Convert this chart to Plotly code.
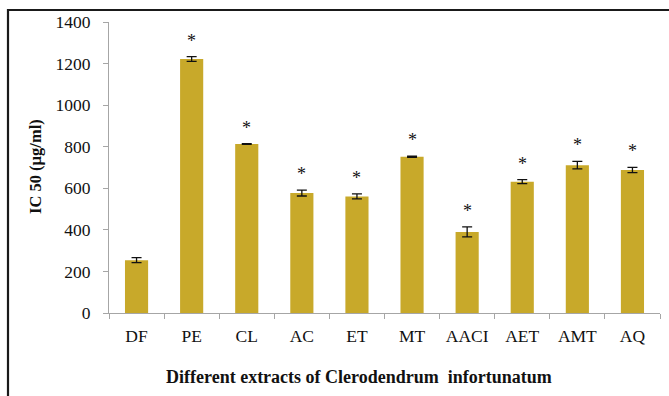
import plotly.graph_objects as go

# IC50 values of the extracts (µg/ml) with their standard deviations
extracts = ["DF", "PE", "CL", "AC", "ET", "MT", "AACI", "AET", "AMT", "AQ"]
ic50 = [254, 1222, 813, 577, 561, 752, 390, 632, 711, 688]
sd = [12, 11, 2, 14, 12, 3, 24, 10, 18, 13]
significance = ["", "*", "*", "*", "*", "*", "*", "*", "*", "*"]

BAR_COLOR = "#C8A92A"
SERIF = "Liberation Serif, Times New Roman, serif"

W, H = 669, 396
ML, MR, MT, MB = 109, 9, 22, 83
PW, PH = W - ML - MR, H - MT - MB

fig = go.Figure()
fig.add_trace(go.Bar(
    x=extracts,
    y=ic50,
    marker=dict(color=BAR_COLOR, line=dict(width=0)),
    error_y=dict(type="data", array=sd, visible=True,
                 color="#111111", thickness=1.3, width=5),
    hoverinfo="x+y",
))

# significance markers above each error bar
annotations = []
for cat, v, e, s in zip(extracts, ic50, sd, significance):
    if s:
        annotations.append(dict(
            x=cat, y=v + e, xref="x", yref="y", text=s, showarrow=False,
            yanchor="bottom", yshift=4,
            font=dict(family=SERIF, size=18, color="#111111"),
        ))

# axis titles
annotations.append(dict(
    x=(359 - ML) / PW, y=(MT + PH - 377) / PH, xref="paper", yref="paper",
    text="<b>Different extracts of Clerodendrum&nbsp; infortunatum</b>",
    showarrow=False, xanchor="center", yanchor="middle",
    font=dict(family=SERIF, size=18, color="#111111"),
))
annotations.append(dict(
    x=(35 - ML) / PW, y=(MT + PH - 167) / PH, xref="paper", yref="paper",
    text="<b>IC 50 (µg/ml)</b>", textangle=-90,
    showarrow=False, xanchor="center", yanchor="middle",
    font=dict(family=SERIF, size=16.5, color="#111111"),
))

# outer frame around the chart
shapes = [dict(
    type="rect", xref="paper", yref="paper",
    x0=(8 - ML) / PW, x1=1.2, y0=-0.6, y1=1 + (MT - 10) / PH,
    line=dict(color="#1a1a1a", width=2.2), fillcolor="rgba(0,0,0,0)",
)]

fig.update_layout(
    width=W, height=H,
    margin=dict(l=ML, r=MR, t=MT, b=MB, pad=0),
    paper_bgcolor="white", plot_bgcolor="white",
    bargap=0.58,
    showlegend=False,
    annotations=annotations,
    shapes=shapes,
    font=dict(family=SERIF, color="#111111"),
)
fig.update_xaxes(
    showline=True, linecolor="#a6a6a6", linewidth=1,
    ticks="outside", tickson="boundaries", ticklen=5, tickcolor="#a6a6a6",
    ticklabelstandoff=7,
    tickfont=dict(family=SERIF, size=17.5, color="#111111"),
    showgrid=False, zeroline=False,
)
fig.update_yaxes(
    range=[0, 1400], dtick=200,
    showline=True, linecolor="#a6a6a6", linewidth=1,
    ticks="outside", ticklen=5, tickcolor="#a6a6a6",
    ticklabelstandoff=9,
    tickfont=dict(family=SERIF, size=17.5, color="#111111"),
    showgrid=False, zeroline=False,
)

fig.write_html("out.html")
